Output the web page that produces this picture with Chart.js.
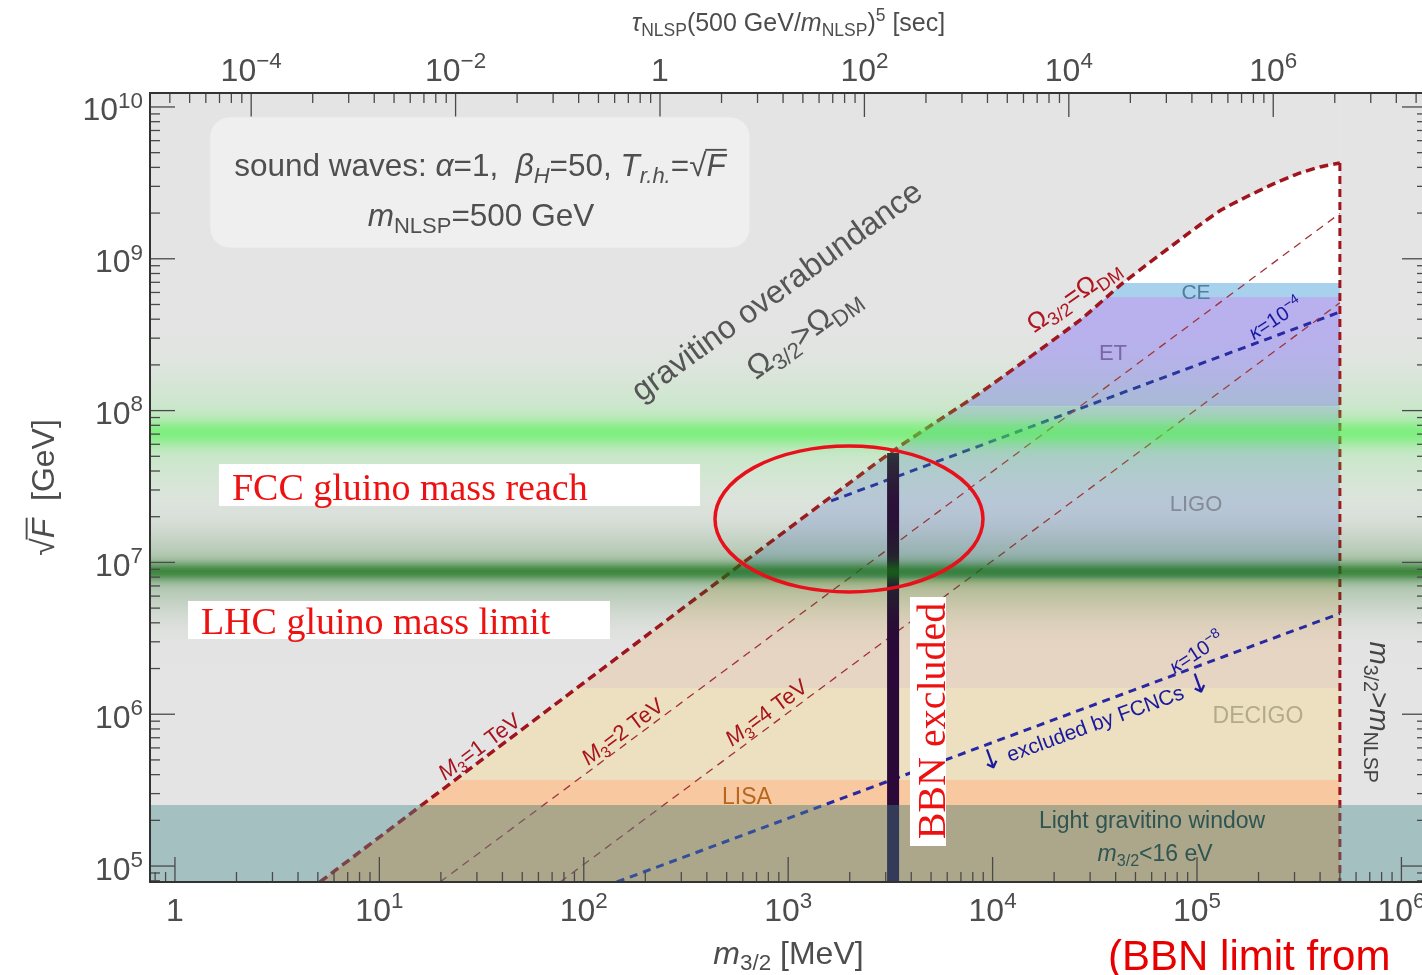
<!DOCTYPE html>
<html>
<head>
<meta charset="utf-8">
<script src="https://cdn.jsdelivr.net/npm/chart.js@4.4.1/dist/chart.umd.min.js"></script>
<style>
html, body { margin: 0; padding: 0; background: #fff; overflow: hidden; }
canvas { display: block; }
</style>
</head>
<body>
<canvas id="plot" width="1440" height="975"></canvas>
<script>
// axis ranges: gravitino mass m_3/2 [MeV] and sqrt(F) [GeV]
const massMin = 0.755, massMax = 1.334e6;
const sqrtFMin = 7.85e4, sqrtFMax = 1.236e10;
// top axis: tau_NLSP = 1 s at this gravitino mass, tau grows like m^2
const tauOneSecMass = 236;

// Omega_3/2 = Omega_DM boundary (thick dashed, M3 = 1 TeV)
const omegaMass  = [5.12, 419, 3221, 8670, 26800, 43450, 100000, 131800, 175800, 233900, 308300, 399900, 500000];
const omegaSqrtF = [7.85e4, 6.89e6, 5.37e7, 1.306e8, 3.95e8, 6.93e8, 1.62e9, 2.10e9, 2.57e9, 3.09e9, 3.61e9, 4.03e9, 4.28e9];

// thin gluino mass lines, M3 = 2 TeV and 4 TeV
const m3Mass  = [[19.8, 500000], [76.6, 500000]];
const m3SqrtF = [[7.85e4, 1.99e9], [7.85e4, 5.13e8]];

// kappa = 1e-4 and kappa = 1e-8 (FCNC) lines
const kappaMass  = [[1622, 500000], [145, 500000]];
const kappaSqrtF = [[2.54e7, 4.46e8], [7.85e4, 4.61e6]];

// BBN excluded bar and m_3/2 = m_NLSP edge
const bbnMass = 3260, bbnTopSqrtF = 5.25e7;
const nlspMass = 5e5, nlspTopSqrtF = 4.28e9;

// gravitational wave sensitivity bands (sqrt(F) ranges)
const gwNames  = ['CE', 'ET', 'LIGO', '', 'DECIGO', 'LISA', ''];
const gwTop    = [6.93e8, 5.6e8, 1.07e8, 7.9e6, 1.49e6, 3.69e5, 2.52e5];
const gwBottom = [5.6e8, 1.07e8, 7.9e6, 1.49e6, 3.69e5, 2.52e5, 7.85e4];
const gwColors = ['#a8d1ee', '#b9b0ee', '#bec6de', '#e6d5c3', '#ece0c0', '#f8c8a0', '#f2ba8c'];

// light gravitino window and gluino mass bands
const lightWindowTop = 2.52e5;
const fccSqrtF = 7.13e7, lhcSqrtF = 8.69e6;

const tauMin = Math.pow(massMin / tauOneSecMass, 2);
const tauMax = Math.pow(massMax / tauOneSecMass, 2);

function pts(xs, ys) { return xs.map((x, i) => ({ x: x, y: ys[i] })); }
function box(x0, x1, y0, y1) {
    return [{ x: x0, y: y0 }, { x: x1, y: y0 }, { x: x1, y: y1 }, { x: x0, y: y1 }];
}
function area(data, color, order) {
    return { data: data, fill: 'shape', backgroundColor: color, borderColor: 'rgba(0,0,0,0)',
        borderWidth: 0, pointRadius: 0, pointHoverRadius: 0, order: order, clip: 0 };
}
function curve(data, color, width, dash, order, tension) {
    return { data: data, fill: false, borderColor: color, borderWidth: width, borderDash: dash,
        pointRadius: 0, pointHoverRadius: 0, order: order, clip: 0, tension: tension || 0 };
}
function glow(center, rgb, peak, core, halo, wCore) {
    return function (c) {
        const ch = c.chart;
        if (!ch.chartArea) return 'rgba(0,0,0,0)';
        const ys = ch.scales.y;
        const y0 = ys.getPixelForValue(center * 6.3), y1 = ys.getPixelForValue(center / 6.3);
        const ym = ys.getPixelForValue(center);
        const g = ch.ctx.createLinearGradient(0, y0, 0, y1);
        for (let i = 0; i <= 80; i++) {
            const f = i / 80, d = y0 + f * (y1 - y0) - ym;
            const al = peak * (wCore * Math.exp(-(d / core) * (d / core)) + (1 - wCore) * Math.exp(-(d / halo) * (d / halo)));
            g.addColorStop(f, 'rgba(' + rgb + ',' + al.toFixed(3) + ')');
        }
        return g;
    };
}

const datasets = [];
// white allowed region above CE
datasets.push(area(box(massMin, massMax, gwTop[0], sqrtFMax), '#ffffff', 100));
gwTop.forEach(function (top, i) {
    datasets.push(area(box(massMin, massMax, gwBottom[i], top), gwColors[i], 100));
});
// gravitino overabundance (above the Omega curve) and m_3/2 > m_NLSP
datasets.push(area([{ x: massMin, y: sqrtFMin }].concat(pts(omegaMass, omegaSqrtF),
    [{ x: nlspMass, y: sqrtFMax }, { x: massMin, y: sqrtFMax }]), '#e4e4e4', 90));
datasets.push(area(box(nlspMass, massMax, sqrtFMin, sqrtFMax), '#e4e4e4', 90));
// lines
m3Mass.forEach(function (m, i) {
    datasets.push(curve(pts(m, m3SqrtF[i]), '#a4303a', 1.3, [8, 6], 60));
});
kappaMass.forEach(function (m, i) {
    datasets.push(curve(pts(m, kappaSqrtF[i]), '#2828a4', 3, [8, 6], 60));
});
datasets.push(curve(pts(omegaMass, omegaSqrtF), '#a0141e', 3.5, [9, 5], 55, 0.2));
datasets.push(curve(pts([nlspMass, nlspMass], [nlspTopSqrtF, sqrtFMin]), '#a0141e', 3, [8, 5], 55));
datasets.push(curve(pts([bbnMass, bbnMass], [bbnTopSqrtF, sqrtFMin]), '#2a0838', 12, [], 50));
// gluino mass bands (FCC reach, LHC limit)
datasets.push(area(box(massMin, massMax, fccSqrtF / 6.3, fccSqrtF * 6.3),
    glow(fccSqrtF, '65,245,65', 0.62, 13, 55, 0.7), 30));
datasets.push(area(box(massMin, massMax, lhcSqrtF / 6.3, lhcSqrtF * 6.3),
    glow(lhcSqrtF, '20,110,20', 0.8, 9, 40, 0.65), 30));
// light gravitino window
datasets.push(area(box(massMin, massMax, sqrtFMin, lightWindowTop), 'rgba(67,137,137,0.4)', 20));

// rich text helpers
const T = t => ({ t: t });
const I = t => ({ t: t, i: true });
const Sb = (t, i) => ({ t: t, s: 'sub', i: i });
const Sp = t => ({ t: t, s: 'sup' });
const Ov = t => ({ t: t, i: true, over: true });
const Big = (t, k) => ({ t: t, k: k, fam: 'DejaVu Sans' });

function rich(ctx, parts, x, y, o) {
    const size = o.size, fam = o.family || 'Liberation Sans';
    const font = p => (p.i ? 'italic ' : '') + (size * (p.s ? 0.7 : 1) * (p.k || 1)).toFixed(1) + 'px "' + (p.fam || fam) + '"';
    let w = 0;
    parts.forEach(function (p) { ctx.font = font(p); p.w = ctx.measureText(p.t).width; w += p.w; });
    ctx.save();
    ctx.translate(x, y);
    if (o.rot) ctx.rotate(o.rot * Math.PI / 180);
    ctx.fillStyle = o.color || '#4d4d4d';
    ctx.strokeStyle = ctx.fillStyle;
    ctx.textAlign = 'left';
    ctx.textBaseline = 'alphabetic';
    let cx = o.align === 'left' ? 0 : o.align === 'right' ? -w : -w / 2;
    const base = size * 0.36;
    parts.forEach(function (p) {
        ctx.font = font(p);
        const dy = p.s === 'sub' ? size * 0.2 : p.s === 'sup' ? -size * 0.4 : 0;
        ctx.fillText(p.t, cx, base + dy);
        if (p.over) {
            ctx.lineWidth = size * 0.06;
            ctx.beginPath();
            ctx.moveTo(cx - size * 0.04, base - size * 0.84);
            ctx.lineTo(cx + p.w + 1, base - size * 0.84);
            ctx.stroke();
        }
        cx += p.w;
    });
    ctx.restore();
}

function roundBox(ctx, x0, y0, x1, y1, r) {
    ctx.beginPath();
    ctx.moveTo(x0 + r, y0);
    ctx.arcTo(x1, y0, x1, y1, r);
    ctx.arcTo(x1, y1, x0, y1, r);
    ctx.arcTo(x0, y1, x0, y0, r);
    ctx.arcTo(x0, y0, x1, y0, r);
    ctx.closePath();
}

function expLabel(e) {
    if (e === 0) return [T('1')];
    return [T('10'), Sp((e < 0 ? '\u2212' : '') + Math.abs(e))];
}

const framePlugin = {
    id: 'frame',
    afterDatasetsDraw(chart) {
        const ctx = chart.ctx, a = chart.chartArea;
        const xs = chart.scales.x, ys = chart.scales.y, ts = chart.scales.x2;
        ctx.save();
        ctx.strokeStyle = '#4a4a4a';
        ctx.lineWidth = 1.3;
        const seg = (x0, y0, x1, y1) => { ctx.beginPath(); ctx.moveTo(x0, y0); ctx.lineTo(x1, y1); ctx.stroke(); };
        for (let e = -1; e <= 6; e++) {
            for (let j = 1; j <= 9; j++) {
                const v = j * Math.pow(10, e);
                if (v < xs.min || v > xs.max) continue;
                const px = xs.getPixelForValue(v);
                seg(px, a.bottom, px, a.bottom - (j === 1 ? 25 : 10));
            }
        }
        for (let e = -6; e <= 8; e += 2) {
            for (let j = 1; j <= 9; j++) {
                const v = j * j * Math.pow(10, e);
                if (v < ts.min || v > ts.max) continue;
                const px = ts.getPixelForValue(v);
                seg(px, a.top, px, a.top + (j === 1 ? 24 : 10));
            }
        }
        for (let e = 4; e <= 10; e++) {
            for (let j = 1; j <= 9; j++) {
                const v = j * Math.pow(10, e);
                if (v < ys.min || v > ys.max) continue;
                const py = ys.getPixelForValue(v), len = j === 1 ? 25 : 10;
                seg(a.left, py, a.left + len, py);
                seg(a.right, py, a.right - len, py);
            }
        }
        ctx.strokeStyle = '#333';
        ctx.lineWidth = 2;
        ctx.strokeRect(a.left, a.top, a.right - a.left, a.bottom - a.top);
        ctx.restore();
    },
    afterDraw(chart) {
        const ctx = chart.ctx, a = chart.chartArea;
        const xs = chart.scales.x, ys = chart.scales.y, ts = chart.scales.x2;
        const P = (lx, ly) => [xs.getPixelForValue(Math.pow(10, lx)), ys.getPixelForValue(Math.pow(10, ly))];
        const grey = '#4d4d4d';

        // tick labels
        for (let e = 0; e <= 6; e++) {
            rich(ctx, expLabel(e), xs.getPixelForValue(Math.pow(10, e)), a.bottom + 27, { size: 32, color: grey });
        }
        for (let e = -4; e <= 6; e += 2) {
            rich(ctx, expLabel(e), ts.getPixelForValue(Math.pow(10, e)), a.top - 24, { size: 32, color: grey });
        }
        for (let e = 5; e <= 10; e++) {
            rich(ctx, expLabel(e), a.left - 7, ys.getPixelForValue(Math.pow(10, e)) + 2, { size: 32, color: grey, align: 'right' });
        }

        // axis titles
        const mid = (a.left + a.right) / 2;
        rich(ctx, [I('m'), Sb('3/2'), T(' [MeV]')], mid, a.bottom + 70, { size: 32, color: grey });
        rich(ctx, [I('\u03c4'), Sb('NLSP'), T('(500 GeV/'), I('m'), Sb('NLSP'), T(')'), Sp('5'), T(' [sec]')],
            mid, a.top - 71, { size: 25, color: grey });
        rich(ctx, [T('\u221a'), Ov('F'), T('  [GeV]')], 42, (a.top + a.bottom) / 2, { size: 32, color: grey, rot: -90 });

        // parameter box
        let p0 = P(0.171, 9.934), p1 = P(2.813, 9.071);
        ctx.save();
        roundBox(ctx, p0[0], p0[1], p1[0], p1[1], 20);
        ctx.fillStyle = '#efefef';
        ctx.fill();
        ctx.strokeStyle = '#e6e6e6';
        ctx.lineWidth = 1;
        ctx.stroke();
        ctx.restore();
        let q = P(1.492, 9.618);
        rich(ctx, [T('sound waves: '), I('\u03b1'), T('=1,  '), I('\u03b2'), Sb('H', true), T('=50, '),
            I('T'), Sb('r.h.', true), T('='), T('\u221a'), Ov('F')], q[0], q[1], { size: 31.5, color: '#4f4f4f' });
        q = P(1.497, 9.289);
        rich(ctx, [I('m'), Sb('NLSP'), T('=500 GeV')], q[0], q[1], { size: 31.5, color: '#4f4f4f' });

        // region labels
        q = P(2.94, 8.794);
        rich(ctx, [T('gravitino overabundance')], q[0], q[1], { size: 32, color: '#555', rot: -36 });
        q = P(3.072, 8.518);
        rich(ctx, [T('\u03a9'), Sb('3/2'), T('>\u03a9'), Sb('DM')], q[0], q[1], { size: 32, color: '#555', rot: -36 });
        q = P(4.393, 8.762);
        rich(ctx, [T('\u03a9'), Sb('3/2'), T('=\u03a9'), Sb('DM')], q[0], q[1], { size: 26, color: '#b0141e', rot: -35 });

        const bandLabels = [
            [gwNames[0], 4.995, 8.788, 21, '#4f7f9c'],
            [gwNames[1], 4.589, 8.386, 22, '#7c67a6'],
            [gwNames[2], 4.995, 7.391, 22, '#838a98'],
            [gwNames[4], 5.298, 5.995, 23, '#b3ab88'],
            [gwNames[5], 2.798, 5.461, 23, '#b8661c']
        ];
        bandLabels.forEach(function (b) {
            const r = P(b[1], b[2]);
            rich(ctx, [T(b[0])], r[0], r[1], { size: b[3], color: b[4] });
        });
        q = P(4.78, 5.303);
        rich(ctx, [T('Light gravitino window')], q[0], q[1], { size: 23, color: '#2f5552' });
        q = P(4.795, 5.086);
        rich(ctx, [I('m'), Sb('3/2'), T('<16 eV')], q[0], q[1], { size: 23, color: '#2f5552' });

        // line labels
        const red = '#a8141c', blue = '#1a1aa0';
        [['1', 1.487, 5.790], ['2', 2.187, 5.889], ['4', 2.891, 6.014]].forEach(function (m) {
            const r = P(m[1], m[2]);
            rich(ctx, [I('M'), Sb('3'), T('=' + m[0] + ' TeV')], r[0], r[1], { size: 22, color: red, rot: -36.6 });
        });
        q = P(5.382, 8.61);
        rich(ctx, [I('\u03ba'), T('=10'), Sp('\u22124')], q[0], q[1], { size: 20, color: blue, rot: -33 });
        q = P(4.995, 6.41);
        rich(ctx, [I('\u03ba'), T('=10'), Sp('\u22128')], q[0], q[1], { size: 20, color: blue, rot: -33 });
        q = P(4.501, 5.942);
        rich(ctx, [Big('\u2193', 1.3), T(' excluded by FCNCs '), Big('\u2193', 1.3)], q[0], q[1], { size: 21, color: blue, rot: -20 });
        q = P(5.895, 6.014);
        rich(ctx, [I('m'), Sb('3/2'), T('>'), I('m'), Sb('NLSP')], q[0], q[1], { size: 28, color: '#444', rot: 90 });

        // red annotations
        const ann = '#ee1111';
        ctx.save();
        ctx.fillStyle = '#ffffff';
        p0 = P(0.215, 7.648); p1 = P(2.569, 7.372);
        ctx.fillRect(p0[0], p0[1], p1[0] - p0[0], p1[1] - p0[1]);
        p0 = P(0.064, 6.746); p1 = P(2.128, 6.495);
        ctx.fillRect(p0[0], p0[1], p1[0] - p0[0], p1[1] - p0[1]);
        p0 = P(3.596, 6.772); p1 = P(3.772, 5.132);
        ctx.fillRect(p0[0], p0[1], p1[0] - p0[0], p1[1] - p0[1]);
        ctx.restore();
        q = P(0.279, 7.502);
        rich(ctx, [T('FCC gluino mass reach')], q[0], q[1], { size: 38, family: 'Liberation Serif', color: ann, align: 'left' });
        q = P(0.127, 6.621);
        rich(ctx, [T('LHC gluino mass limit')], q[0], q[1], { size: 38, family: 'Liberation Serif', color: ann, align: 'left' });
        q = P(3.689, 5.955);
        rich(ctx, [T('BBN excluded')], q[0] + 2, q[1], { size: 40, family: 'Liberation Serif', color: ann, rot: -90 });

        p0 = P(2.642, 7.767); p1 = P(3.953, 6.805);
        ctx.save();
        ctx.strokeStyle = '#e8101a';
        ctx.lineWidth = 3.5;
        ctx.beginPath();
        ctx.ellipse((p0[0] + p1[0]) / 2, (p0[1] + p1[1]) / 2, (p1[0] - p0[0]) / 2, (p1[1] - p0[1]) / 2, 0, 0, 2 * Math.PI);
        ctx.stroke();
        ctx.restore();

        q = P(4.565, 5);
        rich(ctx, [T('(BBN limit from ')], q[0], a.bottom + 73, { size: 42, color: '#e80000', align: 'left' });
    }
};

new Chart(document.getElementById('plot'), {
    type: 'line',
    data: { datasets: datasets },
    options: {
        responsive: false,
        animation: false,
        devicePixelRatio: 1,
        events: [],
        layout: { padding: { left: 150, top: 93, right: 13, bottom: 93 }, autoPadding: false },
        scales: {
            x: { type: 'logarithmic', min: massMin, max: massMax, display: false },
            y: { type: 'logarithmic', min: sqrtFMin, max: sqrtFMax, display: false },
            x2: { type: 'logarithmic', axis: 'x', position: 'top', min: tauMin, max: tauMax, display: false }
        },
        plugins: {
            legend: { display: false },
            tooltip: { enabled: false }
        }
    },
    plugins: [framePlugin]
});
</script>
</body>
</html>
